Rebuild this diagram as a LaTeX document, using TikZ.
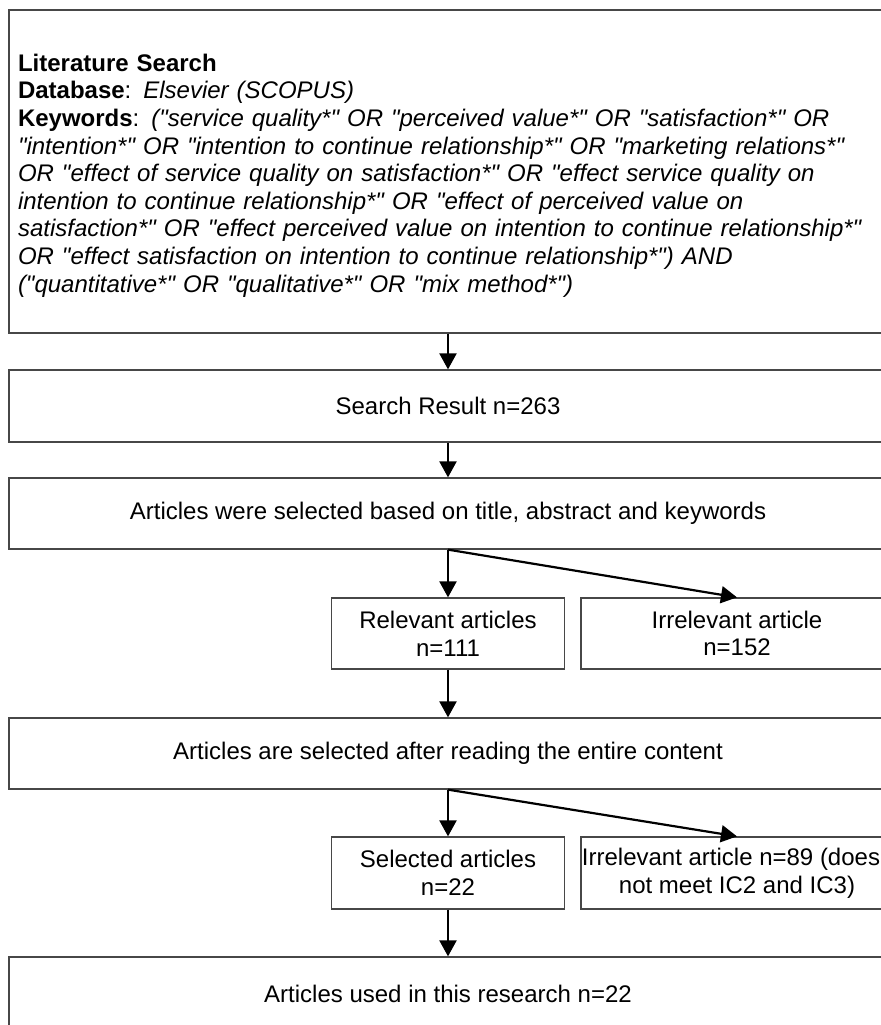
\documentclass[tikz,border=0pt]{standalone}
\usepackage{fontspec}
\setmainfont{Liberation Sans}[Ligatures=TeXOff]
\usetikzlibrary{arrows.meta}
\begin{document}
\begin{tikzpicture}[x=0.75pt,y=-0.75pt,
  box/.style={draw=black!72, line width=0.95pt, fill=white, inner sep=0pt, align=center,
    font=\fontsize{18pt}{20.7pt}\selectfont},
  wide/.style={box, minimum width=658.5pt},
  small/.style={box, minimum height=53.25pt},
  arr/.style={-{Triangle[width=12.75pt,length=12pt]}, line width=1.65pt, black}]
\useasboundingbox (0,0) rectangle (881,1025);
\fill[white] (0,0) rectangle (881,1025);
\clip (0,0) rectangle (881,1025);

\node[wide, minimum height=242.25pt, text width=645pt, align=left] (b1) at (448,171.5) {%
\rule{0pt}{19pt}\textbf{Literature Search}\\
\textbf{Database}: \textit{Elsevier (SCOPUS)}\\
\textbf{Keywords}: \textit{("service quality*" OR "perceived value*" OR "satisfaction*" OR}\\
\textit{"intention*" OR "intention to continue relationship*" OR "marketing relations*"}\\
\textit{OR "effect of service quality on satisfaction*" OR "effect service quality on}\\
\textit{intention to continue relationship*" OR "effect of perceived value on}\\
\textit{satisfaction*" OR "effect perceived value on intention to continue relationship*"}\\
\textit{OR "effect satisfaction on intention to continue relationship*") AND}\\
\textit{("quantitative*" OR "qualitative*" OR "mix method*")}};

\node[wide, minimum height=54pt] (b2) at (448,406) {Search Result n=263};
\node[wide, minimum height=53.25pt] (b3) at (448,513.5) {Articles were selected based on title, abstract and keywords};
\node[small, minimum width=174.75pt] (rel) at (448,633.5) {Relevant articles\\n=111};
\node[small, minimum width=234pt] (irr1) at (737,633.5) {Irrelevant article\\n=152};
\node[wide, minimum height=53.25pt] (b4) at (448,753.5) {Articles are selected after reading the entire content};
\node[small, minimum width=174.75pt, minimum height=54pt] (sel) at (448,873) {Selected articles\\n=22};
\node[small, minimum width=234pt, minimum height=54pt] (irr2) at (737,873) {Irrelevant article n=89 (does\hspace*{9pt}\\not meet IC2 and IC3)};
\node[wide, minimum height=54.75pt] (b5) at (448,993.5) {Articles used in this research n=22};

\draw[arr] (b1.south) -- (b2.north);
\draw[arr] (b2.south) -- (b3.north);
\draw[arr] (b3.south) -- (rel.north);
\draw[arr] (b3.south) -- (irr1.north);
\draw[arr] (rel.south) -- (b4.north);
\draw[arr] (b4.south) -- (sel.north);
\draw[arr] (b4.south) -- (irr2.north);
\draw[arr] (sel.south) -- (b5.north);
\end{tikzpicture}
\end{document}
